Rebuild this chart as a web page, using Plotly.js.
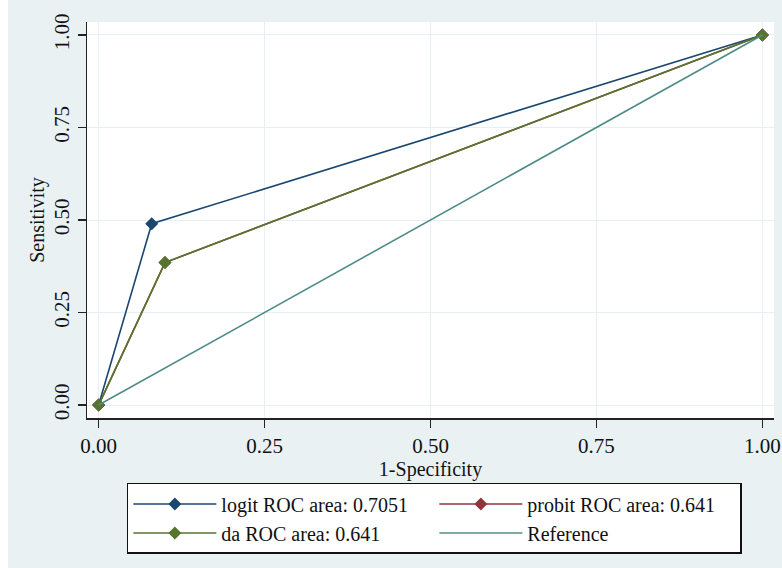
<!DOCTYPE html>
<html>
<head>
<meta charset="utf-8">
<script src="https://cdn.plot.ly/plotly-3.0.1.min.js"></script>
<style>
html,body{margin:0;padding:0;background:#ffffff;}
#chart{position:absolute;left:8px;top:0;width:774px;height:568px;}
</style>
</head>
<body>
<div id="chart"></div>
<script>
// ROC points
const logitX = [0, 0.08, 1];
const logitY = [0, 0.49, 1];
const probitX = [0, 0.10, 1];
const probitY = [0, 0.385, 1];
const daX = [0, 0.10, 1];
const daY = [0, 0.385, 1];
const refX = [0, 1];
const refY = [0, 1];
const seriesNames = ["logit ROC area: 0.7051", "probit ROC area: 0.641", "da ROC area: 0.641", "Reference"];
const tickVals = [0, 0.25, 0.5, 0.75, 1];
const tickText = ["0.00", "0.25", "0.50", "0.75", "1.00"];

const serif = "Liberation Serif, Times New Roman, serif";
const bg = "#e9f1f3";
const grid = "#e6eff2";

const traces = [
  {x: logitX, y: logitY, name: seriesNames[0], mode: "lines+markers",
   line: {color: "#1a476f", width: 1.6}, marker: {symbol: "diamond", size: 10, color: "#1a476f"}},
  {x: probitX, y: probitY, name: seriesNames[1], mode: "lines+markers",
   line: {color: "#90353b", width: 1.6}, marker: {symbol: "diamond", size: 10, color: "#90353b"}},
  {x: daX, y: daY, name: seriesNames[2], mode: "lines+markers",
   line: {color: "#55752f", width: 1.6}, marker: {symbol: "diamond", size: 10, color: "#55752f"}},
  {x: refX, y: refY, name: seriesNames[3], mode: "lines",
   line: {color: "#4f8c88", width: 1.6}}
];

const layout = {
  width: 774, height: 568,
  paper_bgcolor: bg, plot_bgcolor: "#ffffff",
  margin: {l: 79, r: 8, t: 22, b: 150, pad: 0, autoexpand: false},
  font: {family: serif, size: 20, color: "#111111"},
  showlegend: true,
  xaxis: {
    range: [-0.0175, 1.0175], tickvals: tickVals, ticktext: tickText,
    showgrid: true, gridcolor: grid, gridwidth: 1, zeroline: false,
    showline: true, linecolor: "#222222", linewidth: 1.5,
    ticks: "outside", ticklen: 8, tickwidth: 1.5, tickcolor: "#222222",
    tickfont: {family: serif, size: 21, color: "#111111"},
    title: {text: "1-Specificity", font: {family: serif, size: 20, color: "#111111"}, standoff: 0}
  },
  yaxis: {
    range: [-0.035, 1.035], tickvals: tickVals, ticktext: tickText, tickangle: -90,
    showgrid: true, gridcolor: grid, gridwidth: 1, zeroline: false,
    showline: true, linecolor: "#222222", linewidth: 1.5,
    ticks: "outside", ticklen: 8, tickwidth: 1.5, tickcolor: "#222222",
    tickfont: {family: serif, size: 21, color: "#111111"},
    title: {text: "Sensitivity", font: {family: serif, size: 20, color: "#111111"}, standoff: 0}
  },
  legend: {
    orientation: "h", x: 0.058, xanchor: "left", y: -0.164, yanchor: "top",
    bgcolor: "#ffffff", bordercolor: "#111111", borderwidth: 1.5,
    font: {family: serif, size: 20, color: "#111111"},
    entrywidth: 208, entrywidthmode: "pixels", itemwidth: 83,
    traceorder: "normal"
  }
};

Plotly.newPlot("chart", traces, layout, {displayModeBar: false, staticPlot: true});
</script>
</body>
</html>
